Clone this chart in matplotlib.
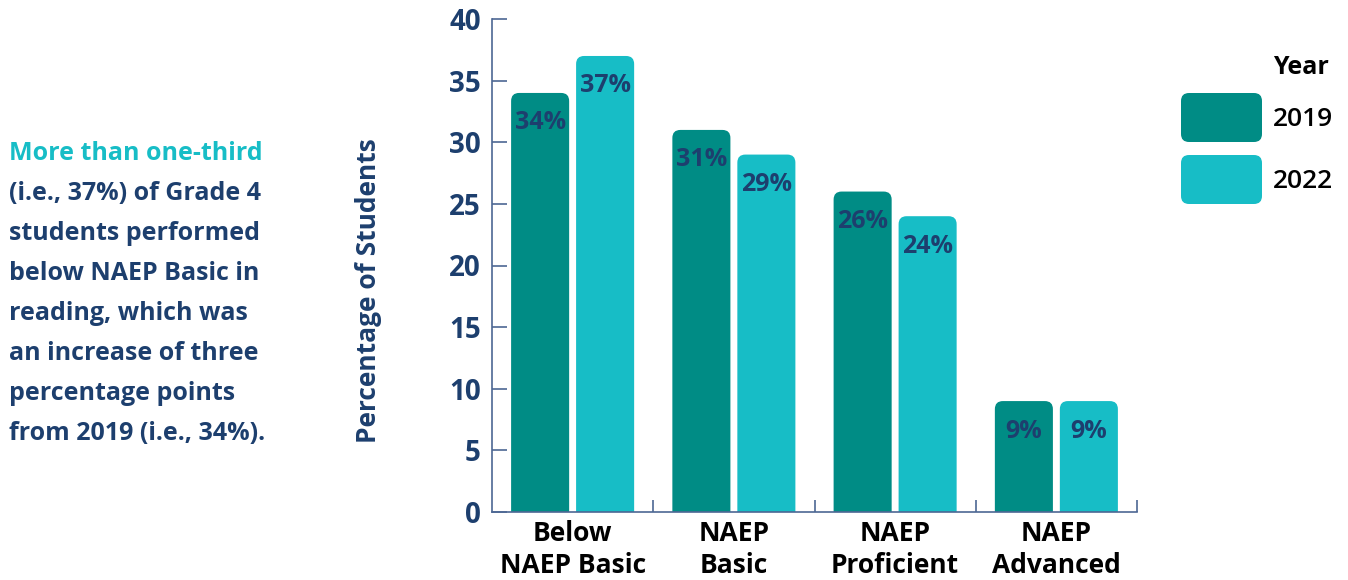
import matplotlib.pyplot as plt
from matplotlib.patches import FancyBboxPatch

plt.rcParams['font.family'] = ['Open Sans', 'DejaVu Sans']

categories = ['Below\nNAEP Basic', 'NAEP\nBasic', 'NAEP\nProficient', 'NAEP\nAdvanced']
years = ['2019', '2022']
values_2019 = [34, 31, 26, 9]
values_2022 = [37, 29, 24, 9]
yticks = [0, 5, 10, 15, 20, 25, 30, 35, 40]

note_lines = ['More than one-third',
              '(i.e., 37%) of Grade 4',
              'students performed',
              'below NAEP Basic in',
              'reading, which was',
              'an increase of three',
              'percentage points',
              'from 2019 (i.e., 34%).']

navy = '#1d3f6e'
axis_col = '#4d6794'
colors = ['#008c85', '#17bdc6']

W, H = 1348, 580
fig = plt.figure(figsize=(W / 100, H / 100), dpi=100)
ax = fig.add_axes([492 / W, 68 / H, 645 / W, 493 / H])

x = range(len(categories))
bw = 0.36
off = 0.2015
series = [values_2019, values_2022]

# px per data unit, for rounded corners
px_x = 645 / 4.0
px_y = 493 / 40.0
r = 8 / px_x

for i, vals in enumerate(series):
    pos = [xi + (off if i else -off) for xi in x]
    bars = ax.bar(pos, vals, width=bw, color=colors[i], label=years[i])
    for b, v in zip(bars, vals):
        b.set_visible(False)
        p = FancyBboxPatch((b.get_x(), -2), bw, v + 2,
                           boxstyle='round,pad=0,rounding_size=%f' % r,
                           mutation_aspect=px_x / px_y,
                           fc=colors[i], ec='none', zorder=2)
        ax.add_patch(p)
        ax.annotate('%d%%' % v, (b.get_x() + bw / 2, v), xytext=(0, -30),
                    textcoords='offset pixels', ha='center', va='center',
                    fontsize=18, fontweight='bold', color=navy, zorder=3)

ax.set_xlim(-0.5, 3.5)
ax.set_ylim(0, 40)
ax.set_yticks(yticks)
ax.set_xticks(list(x))
ax.set_xticklabels(categories, fontsize=19, fontweight='bold', color='black',
                   linespacing=1.2)
ax.set_xticks([0.5, 1.5, 2.5, 3.5], minor=True)
ax.tick_params(axis='x', which='major', length=0, pad=6)
ax.tick_params(axis='x', which='minor', direction='in', length=9,
               color=axis_col, width=1.2)
ax.tick_params(axis='y', direction='in', length=11, color=axis_col,
               width=1.2, pad=8, labelsize=20, labelcolor=navy)
for t in ax.get_yticklabels():
    t.set_fontweight('bold')

for s in ['top', 'right']:
    ax.spines[s].set_visible(False)
for s in ['left', 'bottom']:
    ax.spines[s].set_color(axis_col)
    ax.spines[s].set_linewidth(1.2)

fig.text(368 / W, 1 - 291 / H, 'Percentage of Students', rotation=90,
         ha='center', va='center', fontsize=19, fontweight='bold', color=navy)

# side note
for k, line in enumerate(note_lines):
    fig.text(9 / W, 1 - (154 + 39.9 * k) / H, line, ha='left', va='center',
             fontsize=18, fontweight='bold',
             color=colors[1] if k == 0 else navy)

# legend
fig.text(1273 / W, 1 - 67 / H, 'Year', ha='left', va='center',
         fontsize=18, fontweight='bold', color='black')
for i, yr in enumerate(years):
    top = 93 + 62 * i
    fig.patches.append(FancyBboxPatch((1181 / W, 1 - (top + 49) / H), 81 / W, 49 / H,
                                      boxstyle='round,pad=0,rounding_size=%f' % (8 / W),
                                      mutation_aspect=W / H,
                                      transform=fig.transFigure,
                                      fc=colors[i], ec='none'))
    fig.text(1273 / W, 1 - (top + 26) / H, yr, ha='left', va='center',
             fontsize=19, fontweight='semibold', color='black')

fig.savefig('out.png', dpi=100)
